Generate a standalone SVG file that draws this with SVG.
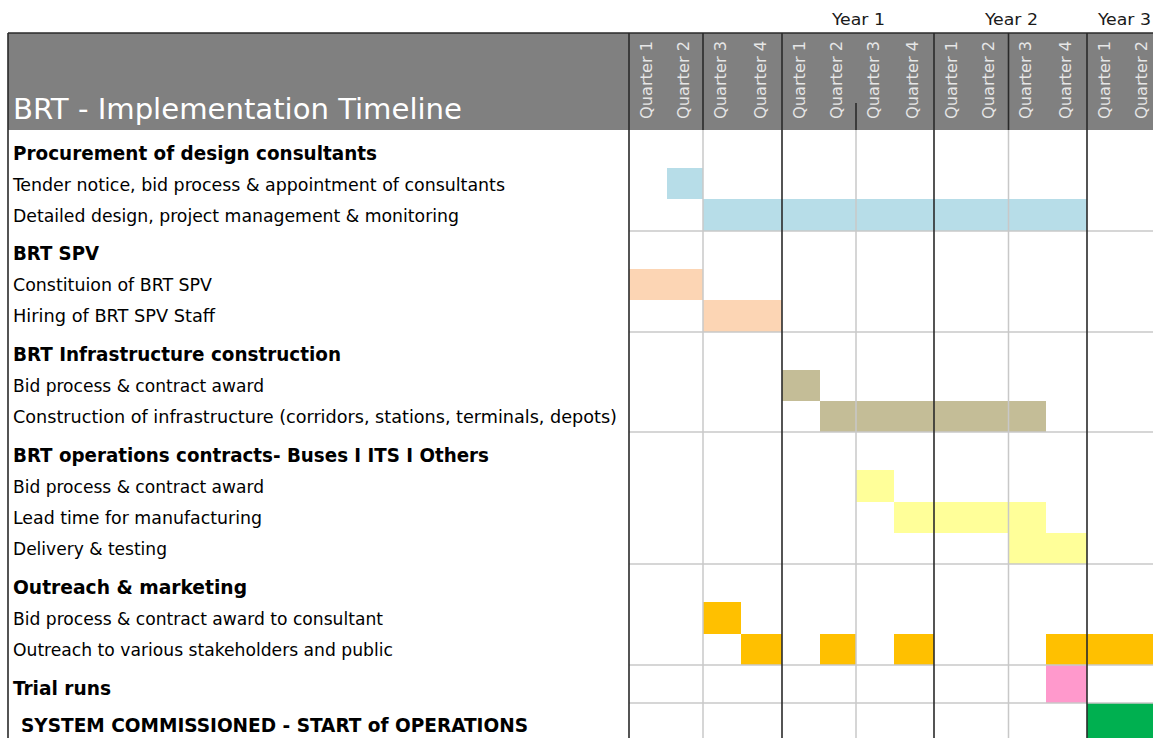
<svg xmlns="http://www.w3.org/2000/svg" width="1153" height="738" viewBox="0 0 1153 738">
<style>
text{font-family:"DejaVu Sans Condensed","DejaVu Sans","Liberation Sans",sans-serif;}
.t{font-size:17.5px;fill:#000;}
.h{font-size:19.5px;font-weight:bold;fill:#000;}
.title{font-size:28px;fill:#fff;}
.q{font-size:15.5px;fill:#e6e6e6;}
.yr{font-size:16.5px;fill:#1a1a1a;}
.gl{stroke:#c8c8c8;stroke-width:1.5;fill:none;}
.dl{stroke:#2a2a2a;stroke-width:1.6;fill:none;}
.blue{fill:#b7dde8;}
.peach{fill:#fcd5b4;}
.khaki{fill:#c4bd97;}
.yel{fill:#ffff99;}
.gold{fill:#ffc000;}
.pink{fill:#ff99cc;}
.green{fill:#00b050;}
</style>
<rect x="0" y="0" width="1153" height="738" fill="#fff"/>

<g id="years">
<text class="yr" x="832" y="25" textLength="53" lengthAdjust="spacingAndGlyphs">Year 1</text>
<text class="yr" x="985" y="25" textLength="53" lengthAdjust="spacingAndGlyphs">Year 2</text>
<text class="yr" x="1098" y="25" textLength="53" lengthAdjust="spacingAndGlyphs">Year 3</text>
</g>

<g id="header">
<rect x="8" y="33" width="1145" height="97" fill="#808080"/>
<text class="title" x="13" y="119" textLength="449" lengthAdjust="spacingAndGlyphs">BRT - Implementation Timeline</text>
<g class="q">
<text transform="translate(651.5,119) rotate(-90)" textLength="78" lengthAdjust="spacingAndGlyphs">Quarter 1</text>
<text transform="translate(688.5,119) rotate(-90)" textLength="78" lengthAdjust="spacingAndGlyphs">Quarter 2</text>
<text transform="translate(726,119) rotate(-90)" textLength="78" lengthAdjust="spacingAndGlyphs">Quarter 3</text>
<text transform="translate(765.5,119) rotate(-90)" textLength="78" lengthAdjust="spacingAndGlyphs">Quarter 4</text>
<text transform="translate(804.5,119) rotate(-90)" textLength="78" lengthAdjust="spacingAndGlyphs">Quarter 1</text>
<text transform="translate(841.5,119) rotate(-90)" textLength="78" lengthAdjust="spacingAndGlyphs">Quarter 2</text>
<text transform="translate(879,119) rotate(-90)" textLength="78" lengthAdjust="spacingAndGlyphs">Quarter 3</text>
<text transform="translate(918,119) rotate(-90)" textLength="78" lengthAdjust="spacingAndGlyphs">Quarter 4</text>
<text transform="translate(956.5,119) rotate(-90)" textLength="78" lengthAdjust="spacingAndGlyphs">Quarter 1</text>
<text transform="translate(993.5,119) rotate(-90)" textLength="78" lengthAdjust="spacingAndGlyphs">Quarter 2</text>
<text transform="translate(1031,119) rotate(-90)" textLength="78" lengthAdjust="spacingAndGlyphs">Quarter 3</text>
<text transform="translate(1070.5,119) rotate(-90)" textLength="78" lengthAdjust="spacingAndGlyphs">Quarter 4</text>
<text transform="translate(1109.5,119) rotate(-90)" textLength="78" lengthAdjust="spacingAndGlyphs">Quarter 1</text>
<text transform="translate(1146.5,119) rotate(-90)" textLength="78" lengthAdjust="spacingAndGlyphs">Quarter 2</text>
</g>
</g>

<g id="procurement">
<text class="h" x="13" y="160" textLength="364" lengthAdjust="spacingAndGlyphs">Procurement of design consultants</text>
<text class="t" x="13" y="191" textLength="492" lengthAdjust="spacingAndGlyphs">Tender notice, bid process &amp; appointment of consultants</text>
<text class="t" x="13" y="222" textLength="446" lengthAdjust="spacingAndGlyphs">Detailed design, project management &amp; monitoring</text>
<rect class="blue" x="667" y="168" width="36" height="31"/>
<rect class="blue" x="703" y="199" width="384" height="32"/>
</g>

<g id="spv">
<text class="h" x="13" y="260" textLength="86" lengthAdjust="spacingAndGlyphs">BRT SPV</text>
<text class="t" x="13" y="291" textLength="199" lengthAdjust="spacingAndGlyphs">Constituion of BRT SPV</text>
<text class="t" x="13" y="322" textLength="202" lengthAdjust="spacingAndGlyphs">Hiring of BRT SPV Staff</text>
<rect class="peach" x="629" y="269" width="74" height="31"/>
<rect class="peach" x="703" y="300" width="79" height="32"/>
</g>

<g id="infrastructure">
<text class="h" x="13" y="361" textLength="328" lengthAdjust="spacingAndGlyphs">BRT Infrastructure construction</text>
<text class="t" x="13" y="392" textLength="251" lengthAdjust="spacingAndGlyphs">Bid process &amp; contract award</text>
<text class="t" x="13" y="423" textLength="604" lengthAdjust="spacingAndGlyphs">Construction of infrastructure (corridors, stations, terminals, depots)</text>
<rect class="khaki" x="782" y="370" width="38" height="31"/>
<rect class="khaki" x="820" y="401" width="226" height="31"/>
</g>

<g id="operations">
<text class="h" x="13" y="462" textLength="476" lengthAdjust="spacingAndGlyphs">BRT operations contracts- Buses I ITS I Others</text>
<text class="t" x="13" y="493" textLength="251" lengthAdjust="spacingAndGlyphs">Bid process &amp; contract award</text>
<text class="t" x="13" y="524" textLength="249" lengthAdjust="spacingAndGlyphs">Lead time for manufacturing</text>
<text class="t" x="13" y="555" textLength="154" lengthAdjust="spacingAndGlyphs">Delivery &amp; testing</text>
<rect class="yel" x="856" y="470" width="38" height="32"/>
<rect class="yel" x="894" y="502" width="152" height="31"/>
<rect class="yel" x="1008" y="533" width="79" height="31"/>
</g>

<g id="outreach">
<text class="h" x="13" y="594" textLength="234" lengthAdjust="spacingAndGlyphs">Outreach &amp; marketing</text>
<text class="t" x="13" y="625" textLength="370" lengthAdjust="spacingAndGlyphs">Bid process &amp; contract award to consultant</text>
<text class="t" x="13" y="656" textLength="380" lengthAdjust="spacingAndGlyphs">Outreach to various stakeholders and public</text>
<rect class="gold" x="703" y="602" width="38" height="32"/>
<rect class="gold" x="741" y="634" width="41" height="31"/>
<rect class="gold" x="820" y="634" width="36" height="31"/>
<rect class="gold" x="894" y="634" width="40" height="31"/>
<rect class="gold" x="1046" y="634" width="107" height="31"/>
</g>

<g id="trial">
<text class="h" x="13" y="695" textLength="98" lengthAdjust="spacingAndGlyphs">Trial runs</text>
<rect class="pink" x="1046" y="665" width="41" height="38"/>
</g>

<g id="commissioned">
<text class="h" x="21" y="732" textLength="507" lengthAdjust="spacingAndGlyphs">SYSTEM COMMISSIONED - START of OPERATIONS</text>
<rect class="green" x="1087" y="703" width="66" height="35"/>
</g>

<g id="connectors">
<g id="grid">
<line class="gl" x1="629" y1="231" x2="1153" y2="231"/>
<line class="gl" x1="629" y1="332" x2="1153" y2="332"/>
<line class="gl" x1="629" y1="432" x2="1153" y2="432"/>
<line class="gl" x1="629" y1="564" x2="1153" y2="564"/>
<line class="gl" x1="629" y1="665" x2="1153" y2="665"/>
<line class="gl" x1="629" y1="703" x2="1153" y2="703"/>
<line class="gl" x1="703" y1="130" x2="703" y2="738"/>
<line class="gl" x1="856" y1="130" x2="856" y2="738"/>
<line class="gl" x1="1008.5" y1="130" x2="1008.5" y2="738"/>
<line class="dl" x1="703" y1="33" x2="703" y2="130"/>
<line class="dl" x1="856" y1="103" x2="856" y2="130"/>
<line class="dl" x1="1008.5" y1="33" x2="1008.5" y2="130"/>
<line class="dl" x1="629" y1="33" x2="629" y2="738"/>
<line class="dl" x1="782" y1="33" x2="782" y2="738"/>
<line class="dl" x1="934" y1="33" x2="934" y2="738"/>
<line class="dl" x1="1087" y1="33" x2="1087" y2="738"/>
<line class="dl" x1="8" y1="33" x2="8" y2="738"/>
<line class="dl" x1="8" y1="33" x2="1153" y2="33"/>
</g>
</g>
</svg>
